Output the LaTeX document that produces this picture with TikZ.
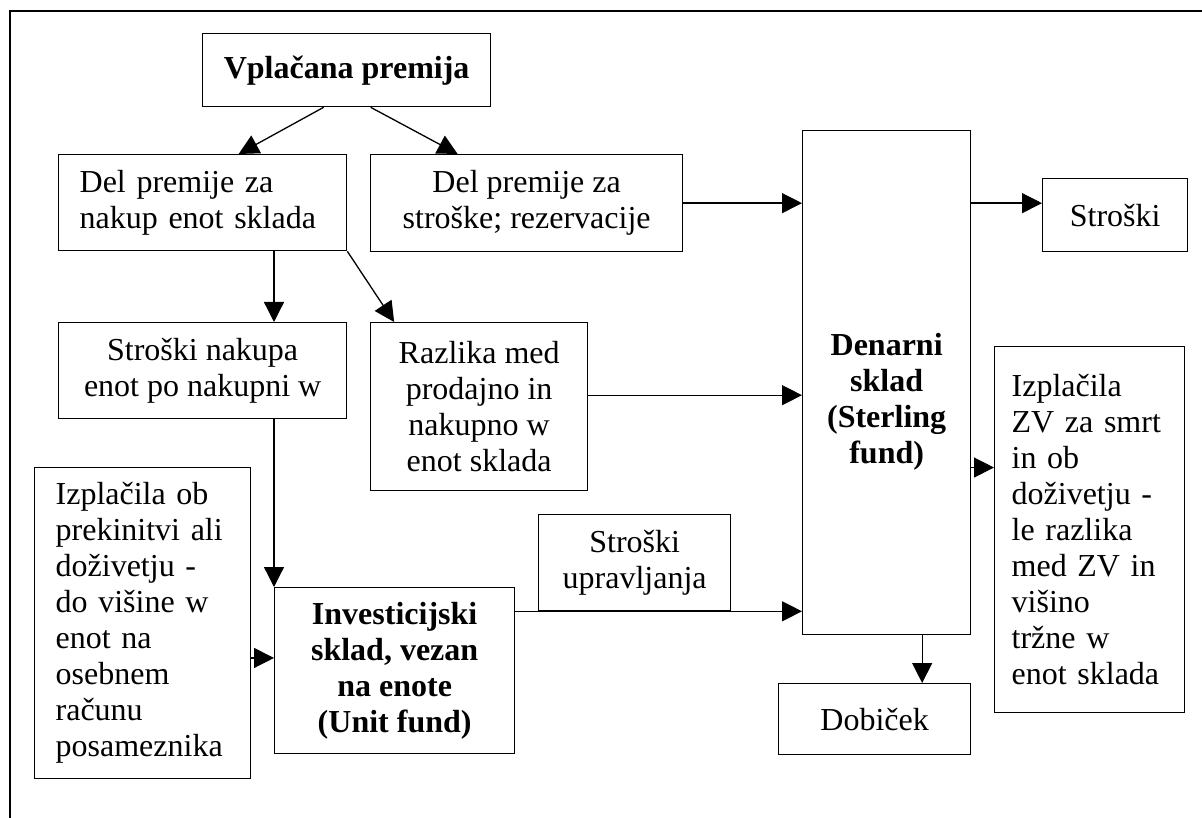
\documentclass[tikz,border=0pt]{standalone}
\usepackage{fontspec}
\setmainfont{Liberation Serif}
\usetikzlibrary{arrows.meta}

\begin{document}
\begin{tikzpicture}[x=1pt,y=-1pt,
    >={Triangle[length=20pt,width=20pt]},
    line width=1.3pt,
    box/.style={draw, rectangle, anchor=north west, inner xsep=21pt, inner ysep=2pt,
                font=\fontsize{32}{36}\selectfont, align=center},
    leftbox/.style={box, align=left},
    boldbox/.style={box, font=\fontsize{32}{36}\selectfont\bfseries}]
  \useasboundingbox (0,0) rectangle (1202,818);
  \draw[line width=2pt] (10,818) -- (10,11) -- (1202,11);

  \node (vplacana)
        [boldbox, minimum width=288pt, minimum height=73pt] at (202,33)
        {Vplačana premija};
  \node (nakup)
        [leftbox, text width=246pt, minimum height=96pt] at (58,154)
        {Del premije za\\nakup enot sklada};
  \node (stroske)
        [box, minimum width=312pt, minimum height=97pt] at (370,154)
        {Del premije za\\stroške; rezervacije};
  \node (denarni)
        [boldbox, minimum width=168pt, minimum height=504pt] at (802,130)
        {\rule{0pt}{60pt}Denarni\\sklad\\(Sterling\\fund)};
  \node (stroski)
        [box, minimum width=145pt, minimum height=73pt] at (1042,178)
        {Stroški};
  \node (izplzv)
        [leftbox, inner xsep=17pt, text width=156pt, minimum height=366pt] at (994,346)
        {Izplačila\\ZV za smrt\\in ob\\doživetju -\\le razlika\\med ZV in\\višino\\tržne w\\enot sklada};
  \node (nakupa)
        [box, minimum width=288pt, minimum height=96pt] at (58,322)
        {Stroški nakupa\\enot po nakupni w};
  \node (razlika)
        [box, minimum width=217pt, minimum height=168pt] at (370,322)
        {Razlika med\\prodajno in\\nakupno w\\enot sklada};
  \node (izpob)
        [leftbox, text width=174pt, minimum height=311pt] at (34,467)
        {Izplačila ob\\prekinitvi ali\\doživetju -\\do višine w\\enot na\\osebnem\\računu\\posameznika};
  \node (invest)
        [boldbox, minimum width=240pt, minimum height=166pt] at (274,587)
        {Investicijski\\sklad, vezan\\na enote\\(Unit fund)};
  \node (upravlj)
        [box, minimum width=192pt, minimum height=96pt] at (538,514)
        {Stroški\\upravljanja};
  \node (dobicek)
        [box, minimum width=192pt, minimum height=71pt] at (778,683)
        {Dobiček};

  \draw[->] ([xshift=-23pt]vplacana.south) -- ([xshift=36pt]nakup.north);
  \draw[->] ([xshift=24pt]vplacana.south) -- ([xshift=-69pt]stroske.north);
  \draw[->] (stroske.east) -- (stroske.east -| denarni.west);
  \draw[->] (stroske.east -| denarni.east) -- (stroske.east -| stroski.west);
  \draw[->] (nakup.south -| invest.west) -- (nakupa.north -| invest.west);
  \draw[->] (nakup.south east) -- ([xshift=-85pt]razlika.north);
  \draw[->] (nakupa.south -| invest.west) -- (invest.north west);
  \draw[->] (razlika.6) -- (razlika.6 -| denarni.west);
  \draw[->] (invest.174 -| izpob.east) -- (invest.174);
  \draw[->] (upravlj.south -| invest.east) -- (upravlj.south -| denarni.west);
  \draw[->] (izplzv.147 -| denarni.east) -- (izplzv.147);
  \draw[->] (denarni.-82) -- (denarni.-82 |- dobicek.north);
\end{tikzpicture}
\end{document}
